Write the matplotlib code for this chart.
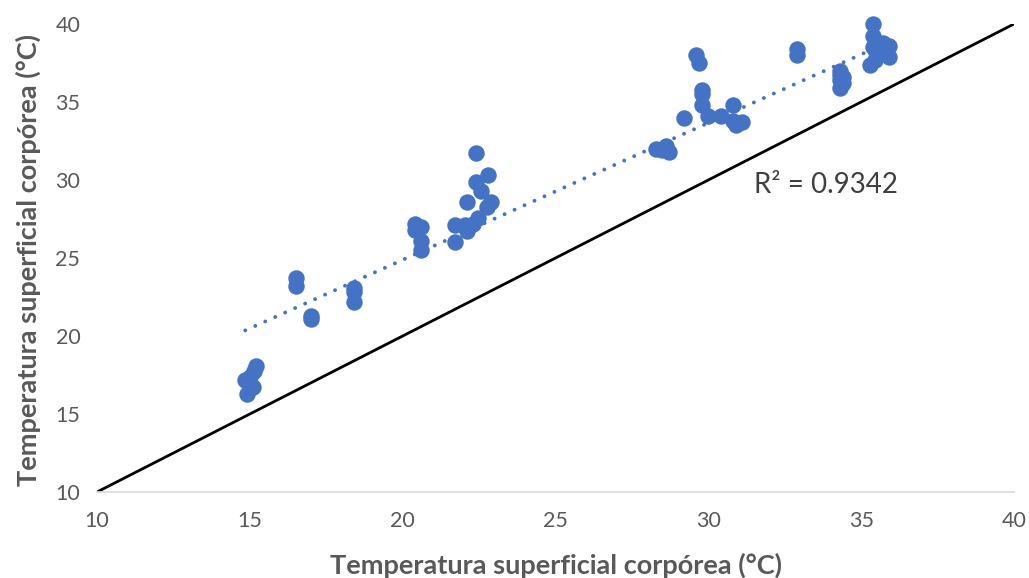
import matplotlib.pyplot as plt
import numpy as np

plt.rcParams['font.family'] = ['Lato', 'DejaVu Sans']

# superficial vs body temperature readings
temp_x = [14.9, 14.85, 15.1, 15.2, 15.15, 15.0,
          16.5, 16.5, 17.0, 17.0,
          18.4, 18.4, 18.4,
          20.4, 20.4, 20.6, 20.6, 20.6,
          22.4, 22.8, 22.4, 22.55, 22.1, 22.9, 22.75, 21.7, 22.1, 21.7, 22.45, 22.3, 22.05,
          28.3, 28.6, 28.7, 28.5,
          29.6, 29.7, 29.8, 29.8, 29.8, 29.2, 30.0, 30.4, 30.8, 30.8, 31.1, 30.9,
          32.9, 32.9,
          34.3, 34.3, 34.3, 34.4, 34.3, 34.4,
          35.4, 35.4, 35.4, 35.3, 35.9, 35.9, 35.5, 35.45, 35.7]
temp_y = [16.3, 17.15, 16.7, 18.05, 17.75, 17.4,
          23.7, 23.2, 21.3, 21.1,
          23.1, 22.8, 22.2,
          27.2, 26.8, 27.0, 26.1, 25.5,
          31.7, 30.3, 29.9, 29.3, 28.6, 28.6, 28.3, 27.1, 26.7, 26.0, 27.55, 27.2, 27.1,
          32.0, 32.2, 31.8, 31.9,
          38.0, 37.5, 35.8, 35.5, 34.8, 34.0, 34.1, 34.1, 34.8, 33.8, 33.7, 33.55,
          38.4, 38.0,
          37.0, 36.7, 36.4, 36.2, 35.9, 36.6,
          40.0, 39.2, 38.55, 37.4, 38.6, 37.9, 38.2, 37.7, 38.75]

# linear trendline (as reported with the chart)
trend_slope = 0.878
trend_intercept = 7.32
r2_text = 'R² = 0.9342'

blue = '#4472C4'
gray = '#595959'

fig = plt.figure(figsize=(10.29, 5.78), dpi=100)
ax = fig.add_axes([0.0943, 0.1488, 0.8911, 0.8097])

# identity line
ax.plot([10, 40], [10, 40], color='black', lw=2, zorder=1)

ax.scatter(temp_x, temp_y, s=140, color=blue, zorder=3, linewidths=0,
           clip_on=False)

xs = np.array([min(temp_x), max(temp_x)])
ax.plot(xs, trend_intercept + trend_slope * xs, color=blue, lw=2.8,
        linestyle=(0, (0.01, 2.8)), dash_capstyle='round', zorder=2)

ax.text(31.5, 29.7, r2_text, fontsize=20, color='#404040',
        va='center', ha='left')

ax.set_xlim(10, 40)
ax.set_ylim(10, 40)
ax.set_xticks(range(10, 41, 5))
ax.set_yticks(range(10, 41, 5))
for s in ['top', 'right', 'left']:
    ax.spines[s].set_visible(False)
ax.spines['bottom'].set_color('#D9D9D9')
ax.spines['bottom'].set_linewidth(1.2)
ax.tick_params(length=0, labelsize=15.5, colors=gray)
ax.tick_params(axis='x', pad=14)
ax.tick_params(axis='y', pad=12)

ax.set_xlabel('Temperatura superficial corpórea (°C)', fontsize=19.5,
              fontweight='bold', color=gray, va='center')
ax.set_ylabel('Temperatura superficial corpórea (°C)', fontsize=19.5,
              fontweight='bold', color=gray, va='center')
ax.xaxis.set_label_coords(0.5, -0.156)
ax.yaxis.set_label_coords(-0.0753, 0.495)

fig.savefig('out.png', dpi=100)
